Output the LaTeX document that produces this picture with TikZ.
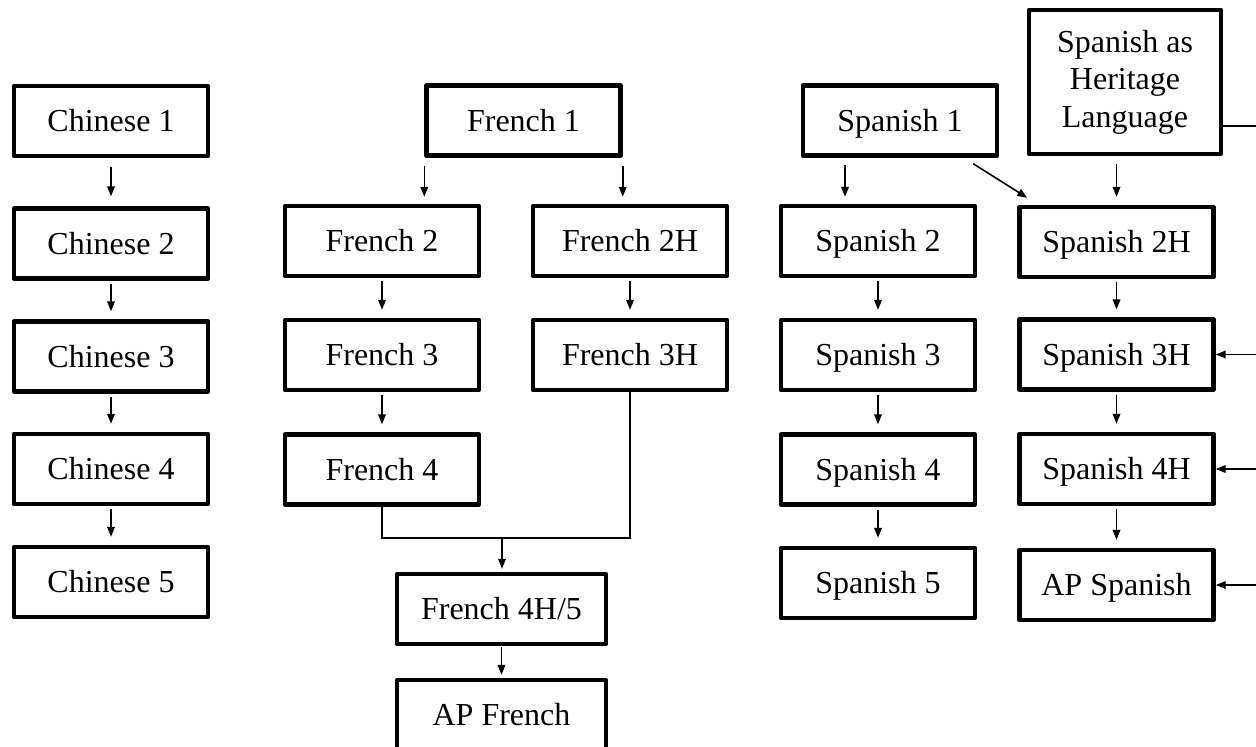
\documentclass[tikz,border=0pt]{standalone}
\usepackage{fontspec}
\setmainfont{Liberation Serif}
\usetikzlibrary{arrows.meta}

\begin{document}
\begin{tikzpicture}[x=0.5pt, y=-0.5pt,
	course/.style={draw, line width=2.2pt, line join=round, minimum width=97pt,
		minimum height=35pt, inner sep=0pt, align=center,
		text height=14pt, text depth=3.5pt,
		font=\fontsize{16}{18.75}\selectfont},
	widecourse/.style={course, minimum width=104.5pt},
	link/.style={line width=0.8pt},
	>={Triangle[length=5pt, width=3.8pt]}]

\useasboundingbox (0, 0) rectangle (1256, 746);
\coordinate (rim) at (1256, 0);

% Chinese
\foreach \n/\y in {1/121, 2/243.5, 3/356.5, 4/469, 5/582}
	\node[course] (c\n) at (111, \y) {Chinese \n};
\draw[->, link, shorten <=4.5pt, shorten >=5pt] (c1) -- (c2);
\foreach \a/\b in {2/3, 3/4, 4/5}
	\draw[->, link, shorten <=1.5pt, shorten >=4pt] (c\a) -- (c\b);

% French
\node[course] (f1) at (523.5, 120.5) {French 1};
\foreach \n/\y in {2/241, 3/355, 4/469.5}
	\node[course] (f\n) at (382, \y) {French \n};
\node[course] (f2h) at (630, 241) {French 2H};
\node[course] (f3h) at (630, 355) {French 3H};
\node[widecourse] (f45) at (501.5, 609) {French 4H/5};
\node[widecourse] (fap) at (501.5, 715) {AP French};
\draw[->, link, shorten <=4pt, shorten >=3.5pt] (f1.south west) -- (f1.south west |- f2.north);
\draw[->, link, shorten <=4pt, shorten >=3.5pt] (f1.south east) -- (f1.south east |- f2h.north);
\draw[->, link, shorten <=1.5pt, shorten >=4pt] (f2) -- (f3);
\draw[->, link, shorten <=1.5pt, shorten >=4pt] (f3) -- (f4);
\draw[->, link, shorten <=1.5pt, shorten >=4pt] (f2h) -- (f3h);
\coordinate (join) at (502, 538);
\draw[link] (f4) -- (f4 |- join) -- (f3h |- join) -- (f3h);
\draw[->, link, shorten >=1.5pt] (join) -- (join |- f45.north);
\draw[->, link, shorten <=0.5pt, shorten >=1.5pt] (f45) -- (fap);

% Spanish
\node[course, minimum width=96pt, minimum height=72pt, text height={}, text depth={}]
	(shl) at (1125, 82) {Spanish as\\Heritage\\Language};
\node[course] (s1) at (900, 120.5) {Spanish 1};
\foreach \n/\y in {2/241, 3/355, 4/469.5, 5/583}
	\node[course] (s\n) at (878, \y) {Spanish \n};
\node[course] (s2h) at (1116.5, 242) {Spanish 2H};
\node[course] (s3h) at (1116.5, 354.5) {Spanish 3H};
\node[course] (s4h) at (1116.5, 469) {Spanish 4H};
\node[course] (sap) at (1116.5, 585) {AP Spanish};
\coordinate (s1a) at (845, 157);
\draw[->, link, shorten <=4pt, shorten >=3.5pt] (s1a) -- (s1a |- s2.north);
\draw[->, link] ([shift={(-26,6)}]s1.south east) -- ([shift={(10,-7)}]s2h.north west);
\draw[->, link, shorten <=4pt, shorten >=4pt] (s2h |- shl.south) -- (s2h);
\foreach \a/\b in {2/3, 3/4, 4/5}
	\draw[->, link, shorten <=1.5pt, shorten >=4pt] (s\a) -- (s\b);
\draw[->, link, shorten <=1.5pt, shorten >=4pt] (s2h) -- (s3h);
\draw[->, link, shorten <=1.5pt, shorten >=4pt] (s3h) -- (s4h);
\draw[->, link, shorten <=1.5pt, shorten >=4pt] (s4h) -- (sap);
\coordinate (shlout) at (1256, 126);
\draw[link] (shlout -| shl.east) -- (shlout);
\foreach \n in {s3h, s4h, sap}
	\draw[->, link] (rim |- \n.east) -- (\n.east);

\end{tikzpicture}
\end{document}
